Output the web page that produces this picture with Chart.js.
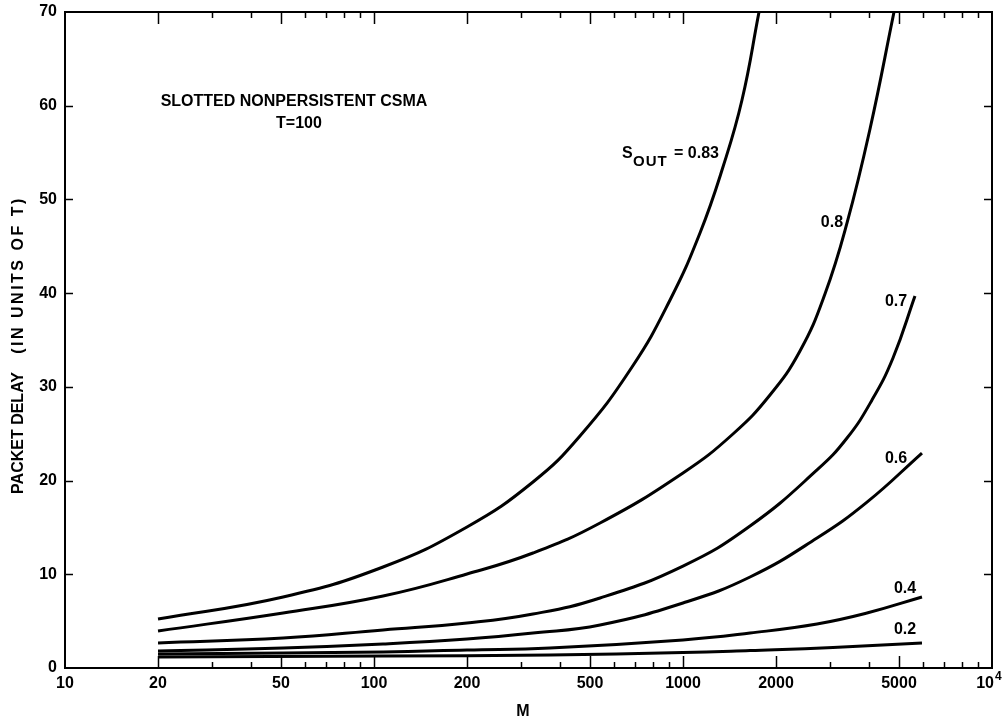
<!DOCTYPE html>
<html><head><meta charset="utf-8">
<script src="https://cdn.jsdelivr.net/npm/chart.js@4.4.1/dist/chart.umd.min.js"></script>
<style>html,body{margin:0;padding:0;background:#fff}#wrap{width:1003px;height:722px;position:relative}</style>
</head><body><div id="wrap"><canvas id="c"></canvas></div>
<script>
// ---- data ----
const xTickValues = [10, 20, 50, 100, 200, 500, 1000, 2000, 5000, 10000];
const xTickLabels = ['10', '20', '50', '100', '200', '500', '1000', '2000', '5000', ''];
const xMinorTicks = [30, 40, 60, 70, 80, 90, 300, 400, 600, 700, 800, 900, 3000, 4000, 6000, 7000, 8000, 9000];
const yTickValues = [0, 10, 20, 30, 40, 50, 60, 70];
const seriesNames = ['0.83', '0.8', '0.7', '0.6', '0.4', '0.2'];

const m083 = [20, 50.8, 107, 200, 327, 464, 684, 908, 1135, 1347, 1552, 1762];
const d083 = [5.23, 7.58, 10.78, 15.05, 19.85, 24.76, 32.12, 39.27, 46.42, 53.46, 60.61, 70];
const m080 = [20, 50.8, 107, 200, 327, 539, 1000, 1451, 1912, 2391, 2880, 3395, 4029, 4818];
const d080 = [3.95, 5.87, 7.68, 10.03, 12.27, 15.47, 20.81, 24.97, 29.13, 33.83, 39.91, 47.49, 57.52, 70];
const m070 = [20, 50.8, 107, 200, 327, 539, 1000, 1648, 2715, 3395, 4090, 4782, 5633];
const d070 = [2.67, 3.2, 4.06, 4.8, 5.76, 7.47, 10.88, 15.15, 21.13, 24.54, 28.6, 33.08, 39.7];
const m060 = [20, 50.8, 107, 200, 327, 539, 1000, 1648, 2715, 3940, 5935];
const d060 = [1.81, 2.13, 2.56, 3.09, 3.73, 4.59, 6.94, 9.71, 13.87, 17.7, 22.94];
const m040 = [20, 50.8, 107, 200, 371, 1000, 1648, 2715, 3940, 5935];
const d040 = [1.49, 1.6, 1.71, 1.92, 2.13, 2.99, 3.73, 4.7, 5.87, 7.58];
const m020 = [20, 107, 371, 1000, 1648, 3058, 5935];
const d020 = [1.17, 1.28, 1.39, 1.65, 1.87, 2.19, 2.67];

const seriesM = [m083, m080, m070, m060, m040, m020];
const seriesD = [d083, d080, d070, d060, d040, d020];

// curve label anchors (data coordinates)
const curveLabels = [
  {text: '0.8', x: 3035, y: 47.5},
  {text: '0.7', x: 4890, y: 39.1},
  {text: '0.6', x: 4890, y: 22.3},
  {text: '0.4', x: 5230, y: 8.5},
  {text: '0.2', x: 5230, y: 4.1}
];

const FONT = '"Liberation Sans", Arial, Helvetica, sans-serif';

const datasets = seriesNames.map((n, i) => ({
  label: n,
  data: seriesM[i].map((m, j) => ({x: m, y: seriesD[i][j]})),
  showLine: true,
  borderColor: '#000',
  borderWidth: 3,
  pointRadius: 0,
  fill: false,
  tension: 0.45
}));

function seg(ctx, x1, y1, x2, y2) { ctx.beginPath(); ctx.moveTo(x1, y1); ctx.lineTo(x2, y2); ctx.stroke(); }

const decor = {
  id: 'decor',
  afterDraw(chart) {
    const {ctx, chartArea: a, scales: {x, y}} = chart;
    ctx.save();
    ctx.strokeStyle = '#000';
    ctx.lineWidth = 2;
    ctx.strokeRect(a.left, a.top, a.right - a.left, a.bottom - a.top);
    ctx.lineWidth = 1.5;
    for (const v of xTickValues.slice(1, -1)) {
      const px = Math.round(x.getPixelForValue(v)) + 0.5;
      seg(ctx, px, a.bottom, px, a.bottom - 12);
      seg(ctx, px, a.top, px, a.top + 12);
    }
    for (const v of xMinorTicks) {
      const px = Math.round(x.getPixelForValue(v)) + 0.5;
      seg(ctx, px, a.bottom, px, a.bottom - 6);
      seg(ctx, px, a.top, px, a.top + 6);
    }
    for (const v of yTickValues.slice(1, -1)) {
      const py = Math.round(y.getPixelForValue(v)) + 0.5;
      seg(ctx, a.left, py, a.left + 8, py);
      seg(ctx, a.right, py, a.right - 8, py);
    }
    ctx.fillStyle = '#000';
    // 10^4 tick label
    ctx.textBaseline = 'alphabetic';
    ctx.textAlign = 'right';
    ctx.font = 'bold 16px ' + FONT;
    const xr = x.getPixelForValue(10000);
    ctx.fillText('10', xr + 2, a.bottom + 20);
    ctx.textAlign = 'left';
    ctx.font = 'bold 12px ' + FONT;
    ctx.fillText('4', xr + 3, a.bottom + 12);

    // axis titles
    ctx.font = 'bold 16px ' + FONT;
    ctx.textAlign = 'center';
    ctx.textBaseline = 'middle';
    ctx.fillText('M', 523, 712);
    ctx.save();
    ctx.translate(19, 0);
    ctx.rotate(-Math.PI / 2);
    ctx.fillText('PACKET DELAY', -433, 0);
    ctx.letterSpacing = '2.5px';
    ctx.fillText('(IN UNITS OF T)', -275, 0);
    ctx.restore();

    // annotation title
    ctx.font = 'bold 16px ' + FONT;
    ctx.textAlign = 'center';
    ctx.fillText('SLOTTED NONPERSISTENT CSMA', 294, 102);
    ctx.fillText('T=100', 299, 124);

    // S_OUT = 0.83
    ctx.textAlign = 'left';
    ctx.textBaseline = 'alphabetic';
    ctx.font = 'bold 16px ' + FONT;
    ctx.fillText('S', 622, 158);
    ctx.font = 'bold 15px ' + FONT;
    ctx.save();
    ctx.letterSpacing = '1px';
    ctx.fillText('OUT', 633, 166);
    ctx.restore();
    ctx.font = 'bold 16px ' + FONT;
    ctx.fillText('= 0.83', 674, 158);

    // curve labels
    ctx.textAlign = 'center';
    ctx.textBaseline = 'middle';
    for (const l of curveLabels) {
      ctx.fillText(l.text, x.getPixelForValue(l.x), y.getPixelForValue(l.y));
    }
    ctx.restore();
  }
};

new Chart(document.getElementById('c'), {
  type: 'scatter',
  data: {datasets},
  options: {
    responsive: true,
    maintainAspectRatio: false,
    animation: false,
    layout: {padding: {top: 12, right: 11, left: 0, bottom: 0}},
    plugins: {legend: {display: false}, tooltip: {enabled: false}},
    scales: {
      x: {
        type: 'logarithmic', min: 10, max: 10000,
        afterBuildTicks: s => { s.ticks = xTickValues.map(v => ({value: v})); },
        afterFit: s => { s.height = 54; s.paddingLeft = 0; s.paddingRight = 0; },
        grid: {display: false, drawTicks: false},
        border: {display: false},
        ticks: {
          autoSkip: false, maxRotation: 0, padding: 6, color: '#000',
          font: {family: FONT, size: 16, weight: 'bold'},
          callback: (v, i) => xTickLabels[i]
        }
      },
      y: {
        type: 'linear', min: 0, max: 70,
        afterBuildTicks: s => { s.ticks = yTickValues.map(v => ({value: v})); },
        afterFit: s => { s.width = 65; s.paddingTop = 0; s.paddingBottom = 0; },
        grid: {display: false, drawTicks: false},
        border: {display: false},
        ticks: {
          padding: 8, color: '#000',
          font: {family: FONT, size: 16, weight: 'bold'}
        }
      }
    }
  },
  plugins: [decor]
});
</script>
</body></html>
